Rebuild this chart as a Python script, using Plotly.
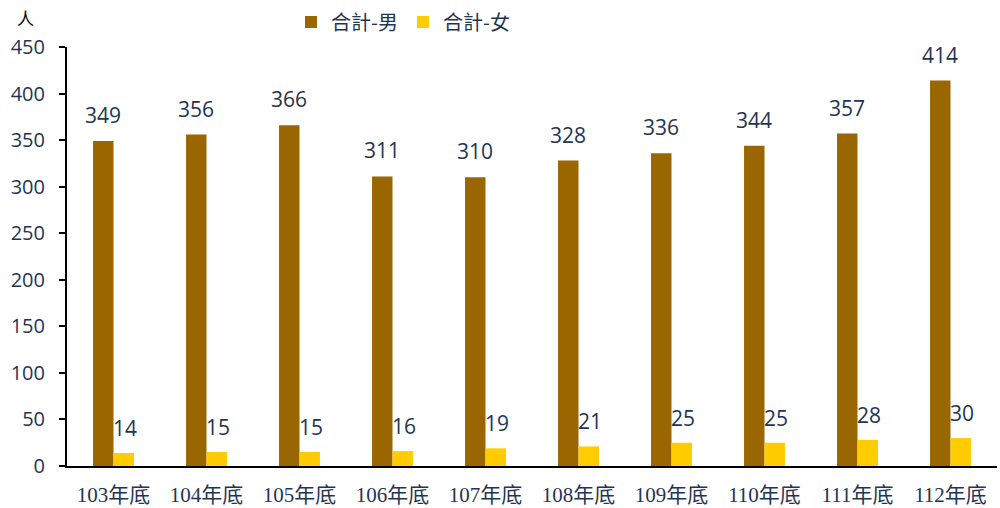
import plotly.graph_objects as go

categories = ["103年底", "104年底", "105年底", "106年底", "107年底",
              "108年底", "109年底", "110年底", "111年底", "112年底"]
male = [349, 356, 366, 311, 310, 328, 336, 344, 357, 414]
female = [14, 15, 15, 16, 19, 21, 25, 25, 28, 30]
y_ticks = [0, 50, 100, 150, 200, 250, 300, 350, 400, 450]

TEXT = "#1F3553"
NUM_FONT = "Open Sans, Noto Sans, sans-serif"
CJK_SERIF = "Liberation Serif, Noto Sans CJK TC, serif"

fig = go.Figure()
fig.add_trace(go.Bar(x=categories, y=male, name="合計-男", marker_color="#996600",
                     marker_line_width=0, offsetgroup=0))
fig.add_trace(go.Bar(x=categories, y=female, name="合計-女", marker_color="#FFCC00",
                     marker_line_width=0, offsetgroup=1))

for i, c in enumerate(categories):
    fig.add_annotation(x=i - 0.11, y=male[i], xref="x", yref="y", text=str(male[i]),
                       showarrow=False, yanchor="middle", yshift=26,
                       font=dict(family=NUM_FONT, size=21, color=TEXT))
    fig.add_annotation(x=i + 0.12, y=female[i], xref="x", yref="y", text=str(female[i]),
                       showarrow=False, yanchor="middle", yshift=25,
                       font=dict(family=NUM_FONT, size=21, color=TEXT))

fig.add_annotation(x=(25 - 67) / 930, y=(508 - 15 - 42) / 421, xref="paper", yref="paper",
                   text="人", showarrow=False, xanchor="center", yanchor="middle",
                   font=dict(family="Noto Sans CJK TC", size=17, color="#000000"))

fig.update_layout(
    width=1000, height=508,
    margin=dict(l=67, r=3, t=45, b=42),
    plot_bgcolor="white", paper_bgcolor="white",
    bargap=0.56, bargroupgap=0,
    showlegend=True,
    legend=dict(orientation="h", x=(403 - 67) / 930, xanchor="center",
                y=(508 - 20 - 42) / 421, yanchor="middle",
                font=dict(family="Noto Sans CJK TC", size=20, color=TEXT),
                traceorder="normal", itemwidth=30),
    xaxis=dict(showline=True, linecolor="#000000", linewidth=2, ticks="",
               tickfont=dict(family=CJK_SERIF, size=21, color=TEXT),
               ticklabelstandoff=9, showgrid=False, automargin=False),
    yaxis=dict(range=[0, 450], tickvals=y_ticks, showline=True, linecolor="#000000",
               linewidth=2, ticks="outside", ticklen=6, tickcolor="#000000", tickwidth=2,
               showgrid=False, zeroline=False, ticklabelstandoff=10, automargin=False,
               tickfont=dict(family=NUM_FONT, size=20, color=TEXT)),
)

fig.write_html("out.html", config={"displayModeBar": False},
               post_script="document.body.style.margin='0';")
